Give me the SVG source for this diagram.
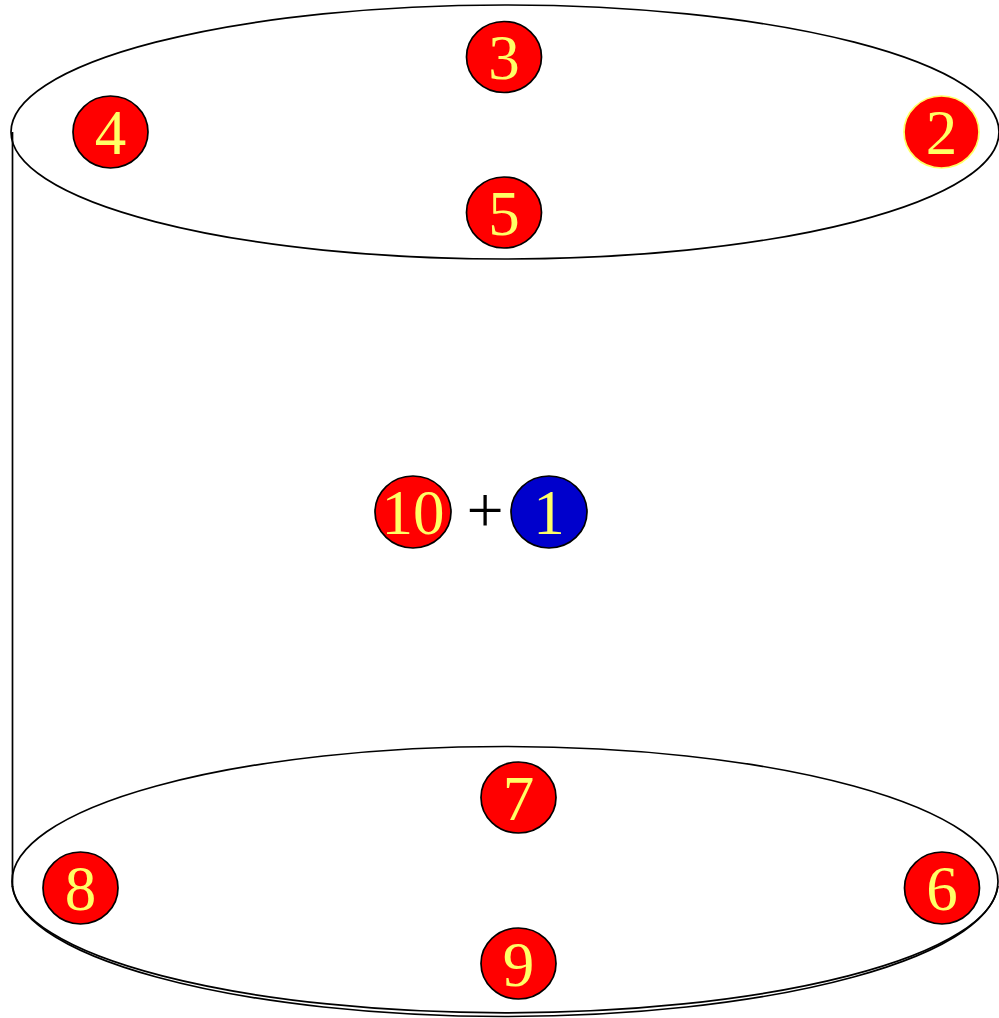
<svg xmlns="http://www.w3.org/2000/svg" width="999" height="1018" viewBox="0 0 999 1018">
<style>
.shell{fill:none;stroke:#000;stroke-width:1.7}
.n ellipse{fill:#ff0000;stroke:#000;stroke-width:1.7}
.n text{font-family:"Liberation Serif","Times New Roman",serif;font-size:63px;fill:#ffff66;text-anchor:middle}
.plus{font-family:"Liberation Serif","Times New Roman",serif;font-size:66px;fill:#000;text-anchor:middle}
</style>
<rect width="999" height="1018" fill="#fff"/>
<g id="cylinder">
<ellipse class="shell" cx="505" cy="132" rx="494" ry="127"/>
<line class="shell" x1="12.5" y1="132" x2="12.5" y2="887"/>
<ellipse class="shell" cx="505" cy="881.5" rx="493" ry="135"/>
<path class="shell" d="M 12.5,886 A 493 131 0 0 0 998,886"/>
</g>
<g id="connectors"></g>
<g id="node3" class="n"><ellipse cx="504" cy="57" rx="37.5" ry="35.5"/><text x="504" y="79">3</text></g>
<g id="node4" class="n"><ellipse cx="110.5" cy="132" rx="37.5" ry="36"/><text x="110.5" y="154">4</text></g>
<g id="node2" class="n"><ellipse cx="941.5" cy="132" rx="37.5" ry="36" style="stroke:#ffff66"/><text x="941.5" y="154">2</text></g>
<g id="node5" class="n"><ellipse cx="504" cy="212.5" rx="37.5" ry="35.5"/><text x="504" y="235">5</text></g>
<g id="node10" class="n"><ellipse cx="413" cy="512" rx="38" ry="36"/><text x="413" y="534">10</text></g>
<text id="plus" class="plus" x="485" y="532">+</text>
<g id="node1" class="n"><ellipse cx="549" cy="512" rx="38" ry="36" style="fill:#0000cc"/><text x="549" y="534">1</text></g>
<g id="node7" class="n"><ellipse cx="518.5" cy="797.5" rx="37.5" ry="35.5"/><text x="518.5" y="820">7</text></g>
<g id="node8" class="n"><ellipse cx="80.5" cy="888" rx="37.5" ry="36"/><text x="80.5" y="910">8</text></g>
<g id="node6" class="n"><ellipse cx="942" cy="888" rx="37.5" ry="36"/><text x="942" y="910">6</text></g>
<g id="node9" class="n"><ellipse cx="518.5" cy="963.5" rx="37.5" ry="35.5"/><text x="518.5" y="986">9</text></g>
</svg>
